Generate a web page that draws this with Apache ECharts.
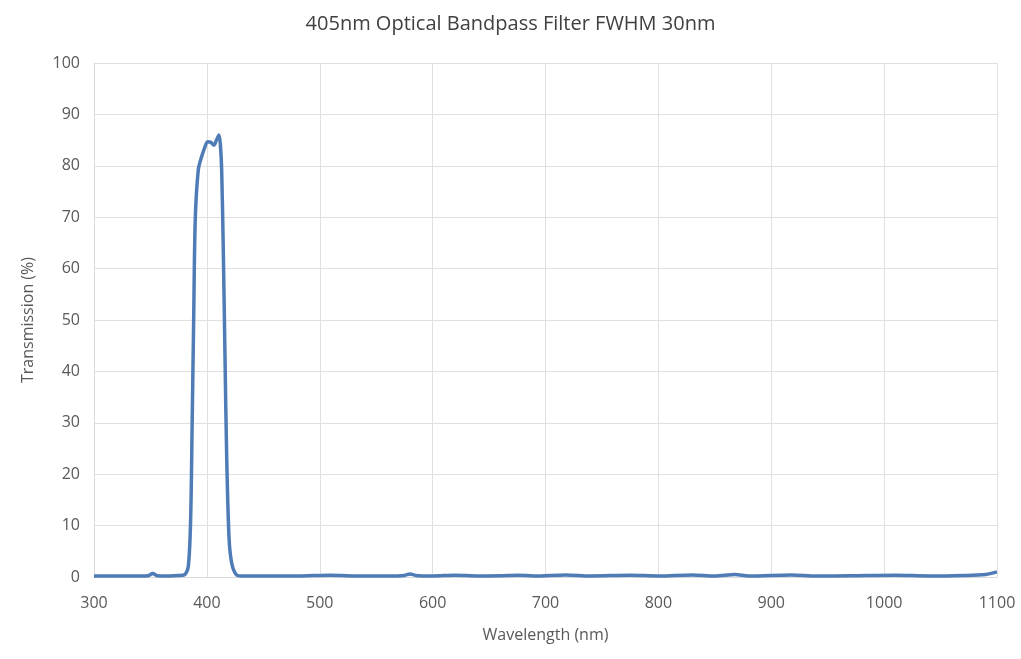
<!DOCTYPE html>
<html><head><meta charset="utf-8">
<script src="https://cdn.jsdelivr.net/npm/echarts@6/dist/echarts.min.js"></script>
<style>html,body{margin:0;padding:0;background:#fff}#c{width:1021px;height:659px}</style>
</head><body><div id="c"></div>
<script>
const wavelength = [300,320,340,348,352,356,365,375,380,383.5,385.6,387,388.3,389.7,392.4,395.4,398,400.7,403.5,406.3,408.5,410.7,412,413.1,414.6,416,417.5,419.6,422,426.4,432,450,480,495,510,530,560,575,580,585,600,620,640,660,675,690,718,740,775,800,830,850,868,880,918,940,970,1010,1040,1070,1090,1100];
const transmission = [0.2,0.2,0.2,0.25,0.7,0.25,0.2,0.3,0.4,2.0,11.1,30.5,50,69.5,79.2,81.8,83.5,84.7,84.6,84.0,85.0,86.0,84.0,79.2,63,43.6,24,7.8,2.7,0.4,0.2,0.2,0.2,0.3,0.35,0.2,0.2,0.3,0.6,0.3,0.2,0.35,0.2,0.25,0.35,0.2,0.4,0.2,0.35,0.2,0.4,0.2,0.5,0.2,0.4,0.2,0.25,0.35,0.2,0.3,0.5,1.0];
const xTicks = [300,400,500,600,700,800,900,1000,1100];

const chart = echarts.init(document.getElementById('c'));
const font = '"Open Sans", "Liberation Sans", sans-serif';
chart.setOption({
  animation:false,
  title:{text:'405nm Optical Bandpass Filter FWHM 30nm',left:'center',top:9,
    textStyle:{fontFamily:font,fontSize:20,fontWeight:'normal',color:'#404040'}},
  grid:{left:94,right:24,top:63,bottom:82},
  xAxis:{type:'value',min:xTicks[0],max:xTicks[xTicks.length-1],interval:100,
    name:'Wavelength (nm)',nameLocation:'middle',nameGap:50,
    nameTextStyle:{fontFamily:font,fontSize:16,color:'#595959'},
    axisLine:{show:true,lineStyle:{color:'#d9d9d9'}},axisTick:{show:false},
    axisLabel:{fontFamily:font,fontSize:16,color:'#595959',margin:18,formatter:v=>String(v)},
    splitLine:{show:true,lineStyle:{color:'#e0e0e0'}}},
  yAxis:{type:'value',min:0,max:100,interval:10,
    name:'Transmission (%)',nameLocation:'middle',nameGap:58,
    nameTextStyle:{fontFamily:font,fontSize:16,color:'#595959'},
    axisLine:{show:true,lineStyle:{color:'#d9d9d9'}},axisTick:{show:false},
    axisLabel:{fontFamily:font,fontSize:16,color:'#595959',margin:14},
    splitLine:{show:true,lineStyle:{color:'#e0e0e0'}}},
  series:[{type:'line',data:wavelength.map((w,i)=>[w,transmission[i]]),
    smooth:0.3,showSymbol:false,lineStyle:{color:'#4f7cb6',width:3.5}}]
});
</script></body></html>
